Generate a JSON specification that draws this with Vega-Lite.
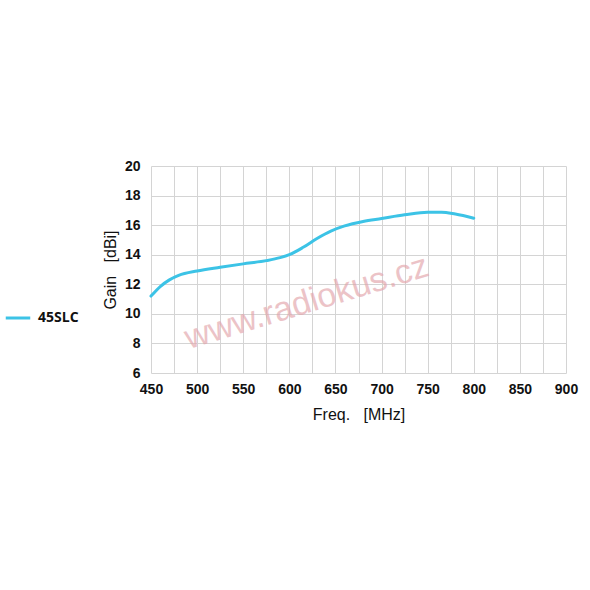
{
  "$schema": "https://vega.github.io/schema/vega-lite/v6.json",
  "width": 415,
  "height": 207,
  "autosize": "none",
  "padding": {"left": 151, "top": 166, "right": 24, "bottom": 217},
  "background": "white",
  "config": {
    "view": {"stroke": null},
    "font": "Liberation Sans"
  },
  "datasets": {
    "gain": [
      {"freq": 450, "gain": 11.2, "series": "45SLC"},
      {"freq": 460, "gain": 11.85, "series": "45SLC"},
      {"freq": 470, "gain": 12.3, "series": "45SLC"},
      {"freq": 480, "gain": 12.6, "series": "45SLC"},
      {"freq": 500, "gain": 12.9, "series": "45SLC"},
      {"freq": 525, "gain": 13.15, "series": "45SLC"},
      {"freq": 550, "gain": 13.38, "series": "45SLC"},
      {"freq": 575, "gain": 13.6, "series": "45SLC"},
      {"freq": 590, "gain": 13.8, "series": "45SLC"},
      {"freq": 600, "gain": 14.0, "series": "45SLC"},
      {"freq": 615, "gain": 14.5, "series": "45SLC"},
      {"freq": 630, "gain": 15.1, "series": "45SLC"},
      {"freq": 645, "gain": 15.6, "series": "45SLC"},
      {"freq": 660, "gain": 15.95, "series": "45SLC"},
      {"freq": 680, "gain": 16.25, "series": "45SLC"},
      {"freq": 700, "gain": 16.45, "series": "45SLC"},
      {"freq": 725, "gain": 16.7, "series": "45SLC"},
      {"freq": 750, "gain": 16.88, "series": "45SLC"},
      {"freq": 765, "gain": 16.88, "series": "45SLC"},
      {"freq": 780, "gain": 16.75, "series": "45SLC"},
      {"freq": 800, "gain": 16.47, "series": "45SLC"}
    ],
    "mark": [
      {"freq": 619, "gain": 10.75, "text": "www.radiokus.cz"}
    ]
  },
  "layer": [
    {
      "data": {"name": "gain"},
      "mark": {"type": "line", "interpolate": "monotone", "strokeWidth": 3, "strokeCap": "round"},
      "encoding": {
        "x": {
          "field": "freq", "type": "quantitative",
          "scale": {"domain": [450, 900], "nice": false, "zero": false},
          "axis": {
            "values": [450, 475, 500, 525, 550, 575, 600, 625, 650, 675, 700, 725, 750, 775, 800, 825, 850, 875, 900],
            "tickCount": 40,
            "labelExpr": "datum.value % 50 == 0 ? datum.label : ''",
            "format": "d",
            "labelOverlap": false,
            "labelFlush": false,
            "labelBound": false,
            "title": "Freq.\u00a0\u00a0\u00a0[MHz]",
            "titleFont": "Liberation Sans",
            "titleFontSize": 16,
            "titleFontWeight": "normal",
            "titleColor": "#111",
            "titlePadding": 10,
            "labelFont": "Liberation Sans",
            "labelFontSize": 14,
            "labelFontWeight": "bold",
            "labelColor": "#111",
            "labelPadding": 9,
            "domain": false,
            "ticks": false,
            "grid": true,
            "gridColor": "#d4d4d4",
            "gridWidth": 1
          }
        },
        "y": {
          "field": "gain", "type": "quantitative",
          "scale": {"domain": [6, 20], "nice": false, "zero": false},
          "axis": {
            "values": [6, 8, 10, 12, 14, 16, 18, 20],
            "tickCount": 20,
            "format": "d",
            "labelOverlap": false,
            "labelFlush": false,
            "labelBound": false,
            "title": "Gain\u00a0\u00a0\u00a0[dBi]",
            "titleFont": "Liberation Sans",
            "titleFontSize": 16,
            "titleFontWeight": "normal",
            "titleColor": "#111",
            "titlePadding": 6,
            "labelFont": "Liberation Sans",
            "labelFontSize": 14,
            "labelFontWeight": "bold",
            "labelColor": "#111",
            "labelPadding": 11,
            "domain": false,
            "ticks": false,
            "grid": true,
            "gridColor": "#d4d4d4",
            "gridWidth": 1
          }
        },
        "color": {
          "field": "series", "type": "nominal",
          "scale": {"range": ["#3cc3e6"]},
          "legend": {
            "orient": "none",
            "legendX": -147,
            "legendY": 138,
            "title": null,
            "symbolType": "stroke",
            "symbolSize": 600,
            "symbolStrokeWidth": 3,
            "labelFont": "Open Sans",
            "labelFontSize": 14,
            "labelFontWeight": "bold",
            "labelColor": "#111",
            "labelOffset": 6
          }
        }
      }
    },
    {
      "data": {"name": "mark"},
      "mark": {"type": "text", "angle": 343, "fontSize": 34, "font": "Liberation Sans", "color": "#e2a4aa", "opacity": 0.65, "align": "center", "baseline": "middle"},
      "encoding": {
        "x": {"field": "freq", "type": "quantitative"},
        "y": {"field": "gain", "type": "quantitative"},
        "text": {"field": "text"}
      }
    }
  ]
}
